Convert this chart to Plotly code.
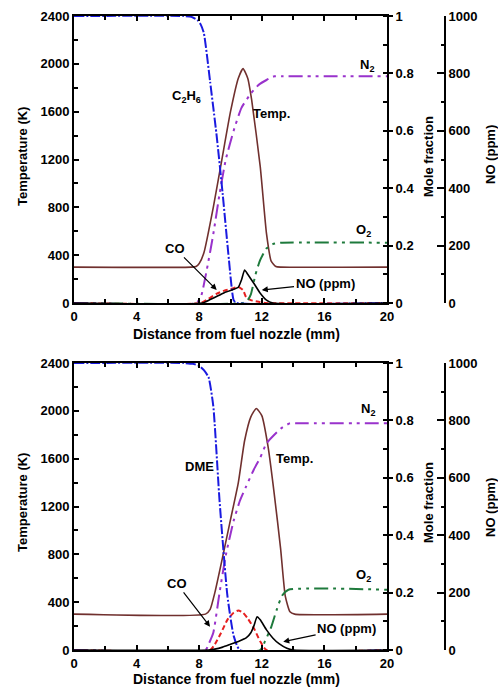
import plotly.graph_objects as go

W, H = 498, 692

# ---------------- Data: top panel (C2H6 flame) ----------------
top_T_x = [0, 7.5, 7.8, 8.0, 8.3, 8.9, 9.45, 10.0, 10.5, 10.8, 11.1, 11.35, 11.9, 12.3, 12.6, 12.9, 13.2, 20]
top_T_y = [300, 300, 305, 330, 420, 800, 1200, 1600, 1880, 1960, 1880, 1700, 1140, 580, 350, 305, 300, 300]

top_fuel_x = [0, 7.0, 7.5, 7.9, 8.1, 8.3, 8.7, 9.1, 9.5, 9.9, 10.2, 10.4, 20]
top_fuel_y = [1.0, 1.0, 0.997, 0.985, 0.97, 0.94, 0.77, 0.59, 0.38, 0.15, 0.01, 0, 0]

top_N2_x = [0, 7.8, 8.1, 8.5, 8.9, 9.3, 9.7, 10.2, 10.7, 11.3, 11.8, 12.3, 12.8, 13.3, 20]
top_N2_y = [0, 0, 0.02, 0.12, 0.24, 0.38, 0.50, 0.60, 0.68, 0.73, 0.76, 0.777, 0.79, 0.79, 0.79]

top_O2_x = [0, 10.8, 11.1, 11.3, 11.6, 11.9, 12.3, 12.7, 13.2, 20]
top_O2_y = [0, 0, 0.01, 0.03, 0.10, 0.15, 0.19, 0.205, 0.21, 0.21]

top_CO_x = [0, 8.1, 8.6, 9.1, 9.6, 10.1, 10.5, 10.8, 11.0, 11.3, 11.8, 12.2, 20]
top_CO_y = [0, 0, 0.015, 0.032, 0.043, 0.05, 0.056, 0.045, 0.02, 0.01, 0.004, 0, 0]

top_NO_x = [0, 8.2, 8.7, 9.2, 9.7, 10.2, 10.5, 10.7, 10.9, 11.1, 11.5, 11.9, 12.3, 12.7, 20]
top_NO_y = [0, 0, 12, 25, 38, 48, 55, 80, 115, 100, 68, 34, 10, 0, 0]

# ---------------- Data: bottom panel (DME flame) ----------------
bot_T_x = [0, 8.4, 8.7, 9.0, 9.5, 10.0, 10.5, 10.9, 11.3, 11.65, 12.0, 12.4, 12.8, 13.2, 13.5, 13.8, 14.1, 20]
bot_T_y = [300, 300, 340, 480, 780, 1090, 1400, 1750, 1950, 2020, 1960, 1700, 1300, 850, 450, 320, 300, 300]

bot_fuel_x = [0, 7.0, 7.6, 8.0, 8.3, 8.6, 8.9, 9.3, 9.8, 10.2, 10.6, 20]
bot_fuel_y = [1.0, 1.0, 0.997, 0.99, 0.975, 0.95, 0.85, 0.52, 0.19, 0.05, 0, 0]

bot_N2_x = [0, 8.4, 8.6, 8.9, 9.3, 9.7, 10.2, 10.6, 11.0, 11.5, 11.9, 12.3, 12.8, 13.3, 13.8, 14.3, 20]
bot_N2_y = [0, 0, 0.02, 0.06, 0.2, 0.33, 0.45, 0.52, 0.57, 0.63, 0.67, 0.72, 0.75, 0.775, 0.79, 0.79, 0.79]

bot_O2_x = [0, 11.9, 12.2, 12.6, 12.95, 13.3, 13.7, 20]
bot_O2_y = [0, 0, 0.03, 0.08, 0.14, 0.19, 0.21, 0.21]

bot_CO_x = [0, 8.7, 9.0, 9.4, 9.8, 10.2, 10.5, 10.8, 11.1, 11.5, 11.9, 12.3, 20]
bot_CO_y = [0, 0, 0.02, 0.06, 0.105, 0.13, 0.138, 0.13, 0.11, 0.075, 0.03, 0, 0]

bot_NO_x = [0, 8.6, 9.0, 9.5, 10.0, 10.5, 11.0, 11.3, 11.5, 11.7, 11.9, 12.3, 12.7, 13.1, 13.6, 14.0, 20]
bot_NO_y = [0, 0, 3, 10, 20, 30, 42, 60, 85, 116, 105, 70, 42, 22, 6, 0, 0]

x_ticks = [0, 4, 8, 12, 16, 20]
T_ticks = [0, 400, 800, 1200, 1600, 2000, 2400]
MF_ticks = [0, 0.2, 0.4, 0.6, 0.8, 1]
NO_ticks = [0, 200, 400, 600, 800, 1000]

# ---------------- Styles ----------------
C_T = "#70302E"
C_FUEL = "#1A1AE0"
C_N2 = "#9932CC"
C_O2 = "#1E7A3C"
C_CO = "#E62020"
C_NO = "#000000"
FONT = "Liberation Sans, Arial, sans-serif"

fig = go.Figure()

def px_x(p):
    return p / W

def px_y(p):
    return 1 - p / H

panels = [
    dict(xa="x", ya="y", ya2="y2", ya3="y3",
         data=(top_T_x, top_T_y, top_fuel_x, top_fuel_y, top_N2_x, top_N2_y,
               top_O2_x, top_O2_y, top_CO_x, top_CO_y, top_NO_x, top_NO_y)),
    dict(xa="x2", ya="y4", ya2="y5", ya3="y6",
         data=(bot_T_x, bot_T_y, bot_fuel_x, bot_fuel_y, bot_N2_x, bot_N2_y,
               bot_O2_x, bot_O2_y, bot_CO_x, bot_CO_y, bot_NO_x, bot_NO_y)),
]

SM = 0.5
for p in panels:
    Tx, Ty, Fx, Fy, Nx, Ny, Ox, Oy, Cx, Cy, NOx, NOy = p["data"]
    fig.add_trace(go.Scatter(x=NOx, y=NOy, xaxis=p["xa"], yaxis=p["ya3"], mode="lines",
                             line=dict(color=C_NO, width=1.6, shape="spline", smoothing=SM)))
    fig.add_trace(go.Scatter(x=Cx, y=Cy, xaxis=p["xa"], yaxis=p["ya2"], mode="lines",
                             line=dict(color=C_CO, width=2, dash="5px,3px", shape="spline", smoothing=SM)))
    fig.add_trace(go.Scatter(x=Ox, y=Oy, xaxis=p["xa"], yaxis=p["ya2"], mode="lines",
                             line=dict(color=C_O2, width=2, dash="14px,5px,3px,5px,3px,5px", shape="spline", smoothing=SM)))
    fig.add_trace(go.Scatter(x=Nx, y=Ny, xaxis=p["xa"], yaxis=p["ya2"], mode="lines",
                             line=dict(color=C_N2, width=2, dash="14px,5px,3px,5px,3px,5px", shape="spline", smoothing=SM)))
    fig.add_trace(go.Scatter(x=Fx, y=Fy, xaxis=p["xa"], yaxis=p["ya2"], mode="lines",
                             line=dict(color=C_FUEL, width=2, dash="10px,2px,2px,2px", shape="spline", smoothing=SM)))
    fig.add_trace(go.Scatter(x=Tx, y=Ty, xaxis=p["xa"], yaxis=p["ya"], mode="lines",
                             line=dict(color=C_T, width=1.6, shape="spline", smoothing=SM)))

tickfont = dict(family=FONT, size=13, color="black", weight="bold")
xdom = [px_x(74), px_x(387)]

def xaxis_cfg(anchor):
    return dict(domain=xdom, anchor=anchor, range=[0, 20], tickvals=x_ticks, automargin=False,
                showline=True, linecolor="black", linewidth=2, mirror="ticks",
                ticks="inside", ticklen=5, tickwidth=1.5, tickcolor="black",
                minor=dict(dtick=2, ticks="inside", ticklen=4, tickwidth=1.5, tickcolor="black"),
                showgrid=False, zeroline=False, tickfont=tickfont, fixedrange=True)

def yT_cfg(dom, anchor):
    return dict(domain=dom, anchor=anchor, range=[0, 2400], tickvals=T_ticks, automargin=False,
                showline=True, linecolor="black", linewidth=2,
                ticks="inside", ticklen=5, tickwidth=1.5, tickcolor="black",
                minor=dict(dtick=200, ticks="inside", ticklen=4, tickwidth=1.5, tickcolor="black"),
                showgrid=False, zeroline=False, tickfont=tickfont)

def yMF_cfg(dom, anchor, over):
    return dict(domain=dom, anchor=anchor, overlaying=over, side="right", range=[0, 1],
                tickvals=MF_ticks, showline=True, linecolor="black", linewidth=2, automargin=False,
                ticks="outside", ticklen=4, tickwidth=1.5, tickcolor="black",
                minor=dict(dtick=0.1, ticks="inside", ticklen=4, tickwidth=1.5, tickcolor="black"),
                showgrid=False, zeroline=False, tickfont=tickfont)

def yNO_cfg(dom, over):
    return dict(domain=dom, anchor="free", position=px_x(445), overlaying=over, side="right",
                range=[0, 1000], tickvals=NO_ticks, showline=True, linecolor="black", linewidth=2,
                automargin=False,
                ticks="inside", ticklen=7, tickwidth=1.5, tickcolor="black",
                minor=dict(dtick=100, ticks="inside", ticklen=3, tickwidth=1.5, tickcolor="black"),
                showgrid=False, zeroline=False, tickfont=tickfont)

dom_top = [px_y(303), px_y(16)]
dom_bot = [px_y(650), px_y(363)]

fig.update_layout(
    width=W, height=H, margin=dict(l=0, r=0, t=0, b=0, autoexpand=False),
    paper_bgcolor="white", plot_bgcolor="white", showlegend=False,
    font=dict(family=FONT, size=13, color="black"),
    xaxis=xaxis_cfg("y"), xaxis2=xaxis_cfg("y4"),
    yaxis=yT_cfg(dom_top, "x"), yaxis2=yMF_cfg(dom_top, "x", "y"), yaxis3=yNO_cfg(dom_top, "y"),
    yaxis4=yT_cfg(dom_bot, "x2"), yaxis5=yMF_cfg(dom_bot, "x2", "y4"), yaxis6=yNO_cfg(dom_bot, "y4"),
)

afont = dict(family=FONT, size=13, color="black", weight="bold")
ann = []
# Axis titles (paper coords)
for yc_T, yc_NO in [(157, 155), (503, 508)]:
    ann.append(dict(text="Temperature (K)", x=px_x(22), y=px_y(yc_T), xref="paper", yref="paper",
                    textangle=-90, showarrow=False, font=afont, xanchor="center", yanchor="middle"))
    ann.append(dict(text="Mole fraction", x=px_x(428), y=px_y(yc_T), xref="paper", yref="paper",
                    textangle=-90, showarrow=False, font=afont, xanchor="center", yanchor="middle"))
    ann.append(dict(text="NO (ppm)", x=px_x(490), y=px_y(yc_NO), xref="paper", yref="paper",
                    textangle=-90, showarrow=False, font=afont, xanchor="center", yanchor="middle"))
for yc in [334, 679]:
    ann.append(dict(text="Distance from fuel nozzle (mm)", x=px_x(236), y=px_y(yc), xref="paper",
                    yref="paper", showarrow=False, font=dict(family=FONT, size=14, color="black", weight="bold"),
                    xanchor="center", yanchor="middle"))

# Curve labels (data coords)
def lab(text, x, y, xr, yr):
    return dict(text=text, x=x, y=y, xref=xr, yref=yr, showarrow=False, font=afont,
                xanchor="center", yanchor="middle")

def arrow(text, hx, hy, tx, ty, xr, yr):
    return dict(text=text, x=hx, y=hy, ax=tx, ay=ty, xref=xr, yref=yr, axref=xr, ayref=yr,
                showarrow=True, arrowhead=2, arrowsize=1, arrowwidth=1.2, arrowcolor="black",
                font=afont, standoff=0)

ann += [
    lab("C<sub>2</sub>H<sub>6</sub>", 7.2, 1725, "x", "y"),
    lab("Temp.", 12.63, 1586, "x", "y"),
    lab("N<sub>2</sub>", 18.7, 1990, "x", "y"),
    lab("O<sub>2</sub>", 18.49, 610, "x", "y"),
    arrow("CO", 9.12, 109, 6.45, 457, "x", "y"),
    arrow("NO (ppm)", 12.0, 109, 16.04, 165, "x", "y"),
    lab("DME", 8.05, 1533, "x2", "y4"),
    lab("Temp.", 14.12, 1603, "x2", "y4"),
    lab("N<sub>2</sub>", 18.8, 2007, "x2", "y4"),
    lab("O<sub>2</sub>", 18.49, 627, "x2", "y4"),
    arrow("CO", 8.69, 195, 6.56, 558, "x2", "y4"),
    arrow("NO (ppm)", 13.37, 69, 17.42, 181, "x2", "y4"),
]
fig.update_layout(annotations=ann)

fig.write_html("out.html", config={"displayModeBar": False},
               post_script="document.body.style.margin='0px';document.body.style.overflow='hidden';")
